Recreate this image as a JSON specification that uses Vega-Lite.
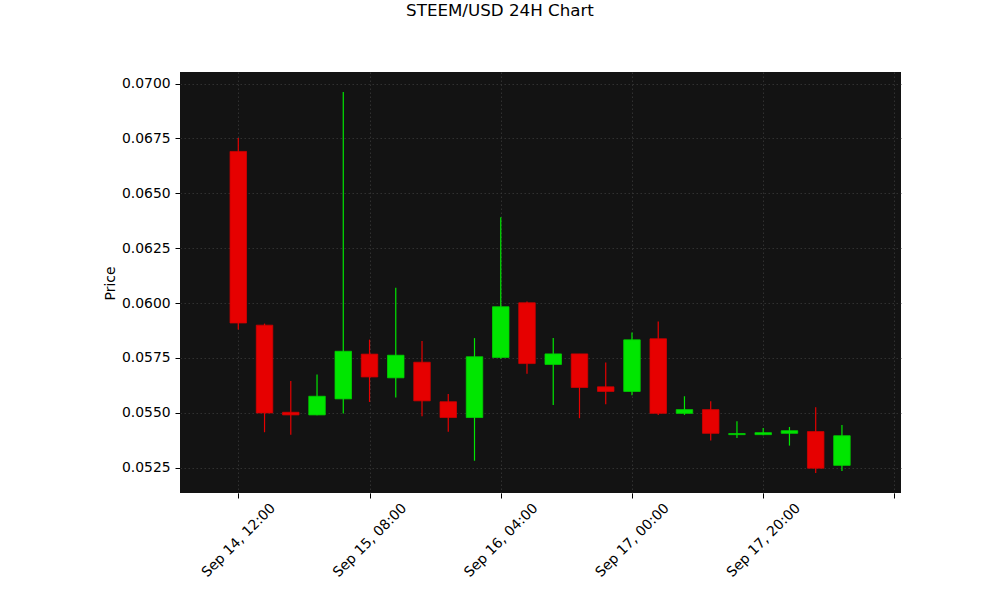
{
  "$schema": "https://vega.github.io/schema/vega-lite/v6.json",
  "description": "STEEM/USD 24H candlestick chart, 4-hour candles",
  "autosize": {"type": "none"},
  "padding": {"left": 180, "top": 72, "right": 99, "bottom": 107},
  "width": 721,
  "height": 421,
  "background": "white",
  "title": {
    "text": "STEEM/USD 24H Chart",
    "font": "DejaVu Sans",
    "fontSize": 16.7,
    "fontWeight": "normal",
    "color": "black",
    "anchor": "middle",
    "baseline": "alphabetic",
    "dx": -40.5,
    "offset": 39
  },
  "config": {
    "view": {"fill": "#131313", "stroke": null},
    "axis": {
      "labelFont": "DejaVu Sans",
      "labelFontSize": 13.9,
      "labelColor": "black",
      "titleFont": "DejaVu Sans",
      "titleFontSize": 13.9,
      "titleFontWeight": "normal",
      "titleColor": "black",
      "domain": false,
      "tickColor": "black",
      "tickSize": 5,
      "tickWidth": 1,
      "grid": true,
      "gridColor": "#3a3a3a",
      "gridDash": [1.5, 2.5],
      "gridWidth": 0.8
    }
  },
  "data": {
    "values": [
      {"t": "2023-09-14T12:00:00Z", "open": 0.06691, "high": 0.06752, "low": 0.05879, "close": 0.05909},
      {"t": "2023-09-14T16:00:00Z", "open": 0.05899, "high": 0.05906, "low": 0.05411, "close": 0.05499},
      {"t": "2023-09-14T20:00:00Z", "open": 0.05502, "high": 0.05645, "low": 0.05400, "close": 0.05490},
      {"t": "2023-09-15T00:00:00Z", "open": 0.05490, "high": 0.05674, "low": 0.05488, "close": 0.05575},
      {"t": "2023-09-15T04:00:00Z", "open": 0.05563, "high": 0.06962, "low": 0.05496, "close": 0.05780},
      {"t": "2023-09-15T08:00:00Z", "open": 0.05767, "high": 0.05833, "low": 0.05549, "close": 0.05663},
      {"t": "2023-09-15T12:00:00Z", "open": 0.05659, "high": 0.06070, "low": 0.05569, "close": 0.05762},
      {"t": "2023-09-15T16:00:00Z", "open": 0.05730, "high": 0.05827, "low": 0.05484, "close": 0.05554},
      {"t": "2023-09-15T20:00:00Z", "open": 0.05550, "high": 0.05585, "low": 0.05413, "close": 0.05478},
      {"t": "2023-09-16T00:00:00Z", "open": 0.05478, "high": 0.05840, "low": 0.05281, "close": 0.05755},
      {"t": "2023-09-16T04:00:00Z", "open": 0.05752, "high": 0.06391, "low": 0.05746, "close": 0.05983},
      {"t": "2023-09-16T08:00:00Z", "open": 0.06001, "high": 0.06007, "low": 0.05677, "close": 0.05724},
      {"t": "2023-09-16T12:00:00Z", "open": 0.05720, "high": 0.05840, "low": 0.05535, "close": 0.05768},
      {"t": "2023-09-16T16:00:00Z", "open": 0.05768, "high": 0.05768, "low": 0.05475, "close": 0.05615},
      {"t": "2023-09-16T20:00:00Z", "open": 0.05618, "high": 0.05729, "low": 0.05539, "close": 0.05597},
      {"t": "2023-09-17T00:00:00Z", "open": 0.05597, "high": 0.05866, "low": 0.05580, "close": 0.05832},
      {"t": "2023-09-17T04:00:00Z", "open": 0.05837, "high": 0.05916, "low": 0.05490, "close": 0.05497},
      {"t": "2023-09-17T08:00:00Z", "open": 0.05497, "high": 0.05575, "low": 0.05490, "close": 0.05514},
      {"t": "2023-09-17T12:00:00Z", "open": 0.05514, "high": 0.05552, "low": 0.05373, "close": 0.05406},
      {"t": "2023-09-17T16:00:00Z", "open": 0.05400, "high": 0.05461, "low": 0.05385, "close": 0.05405},
      {"t": "2023-09-17T20:00:00Z", "open": 0.05400, "high": 0.05430, "low": 0.05397, "close": 0.05409},
      {"t": "2023-09-18T00:00:00Z", "open": 0.05406, "high": 0.05435, "low": 0.05350, "close": 0.05418},
      {"t": "2023-09-18T04:00:00Z", "open": 0.05414, "high": 0.05525, "low": 0.05225, "close": 0.05247},
      {"t": "2023-09-18T08:00:00Z", "open": 0.05260, "high": 0.05444, "low": 0.05234, "close": 0.05395}
    ]
  },
  "encoding": {
    "x": {
      "field": "t",
      "type": "temporal",
      "scale": {
        "type": "utc",
        "padding": 0,
        "domain": [
          {"year": 2023, "month": 9, "date": 14, "hours": 3, "minutes": 7, "utc": true},
          {"year": 2023, "month": 9, "date": 18, "hours": 17, "minutes": 0, "utc": true}
        ]
      },
      "axis": {
        "title": null,
        "values": [
          {"year": 2023, "month": 9, "date": 14, "hours": 12, "utc": true},
          {"year": 2023, "month": 9, "date": 15, "hours": 8, "utc": true},
          {"year": 2023, "month": 9, "date": 16, "hours": 4, "utc": true},
          {"year": 2023, "month": 9, "date": 17, "hours": 0, "utc": true},
          {"year": 2023, "month": 9, "date": 17, "hours": 20, "utc": true},
          {"year": 2023, "month": 9, "date": 18, "hours": 16, "utc": true}
        ],
        "labelExpr": "utcdate(datum.value) == 18 ? '' : utcFormat(datum.value, '%b %d, %H:%M')",
        "labelAngle": -45,
        "labelAlign": "center",
        "labelBaseline": "middle",
        "labelPadding": 42,
        "labelOverlap": false,
        "labelFlush": false,
        "labelBound": false
      }
    },
    "color": {
      "condition": {"test": "datum.close >= datum.open", "value": "#00e600"},
      "value": "#e60000"
    }
  },
  "layer": [
    {
      "mark": {"type": "rule", "strokeWidth": 1.2},
      "encoding": {
        "y": {
          "field": "low",
          "type": "quantitative",
          "scale": {"domain": [0.05134, 0.07053], "nice": false, "zero": false},
          "axis": {
            "title": "Price",
            "titleX": -70,
            "titleY": 211,
            "titleBaseline": "middle",
            "titleAngle": -90,
            "values": [0.0525, 0.055, 0.0575, 0.06, 0.0625, 0.065, 0.0675, 0.07],
            "format": ".4f",
            "labelPadding": 4.9
          }
        },
        "y2": {"field": "high"}
      }
    },
    {
      "mark": {"type": "bar", "size": 16.5, "strokeWidth": 0.8},
      "encoding": {
        "y": {"field": "open", "type": "quantitative"},
        "y2": {"field": "close"},
        "stroke": {
          "condition": {"test": "datum.close >= datum.open", "value": "#00d000"},
          "value": "#d00000"
        }
      }
    }
  ]
}
